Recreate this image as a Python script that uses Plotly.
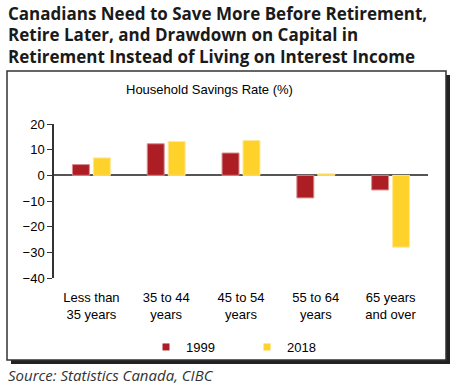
import plotly.graph_objects as go

categories = ["Less than<br>35 years", "35 to 44<br>years", "45 to 54<br>years",
              "55 to 64<br>years", "65 years<br>and over"]
values_1999 = [4.2, 12.3, 8.7, -8.8, -5.7]
values_2018 = [6.8, 13.2, 13.6, 0.6, -28.0]
y_ticks = [20, 10, 0, -10, -20, -30, -40]

W, H = 467, 390
L, R, T, B = 54, 39, 124, 112
PW, PH = W - L - R, H - T - B

def px(x):
    return (x - L) / PW

def py(y):
    return (H - B - y) / PH

RED = "#AD1E24"
YEL = "#FFD22B"

fig = go.Figure()
fig.add_trace(go.Bar(x=categories, y=values_1999, name="1999", showlegend=False,
                     marker=dict(color=RED, line=dict(color="#D98C8F", width=1))))
fig.add_trace(go.Bar(x=categories, y=values_2018, name="2018", showlegend=False,
                     marker=dict(color=YEL, line=dict(color="#FFE89A", width=1))))
# legend entries with small square symbols
fig.add_trace(go.Scatter(x=[None], y=[None], mode="markers", name="1999",
                         marker=dict(symbol="square", size=7, color=RED)))
fig.add_trace(go.Scatter(x=[None], y=[None], mode="markers", name="2018",
                         marker=dict(symbol="square", size=7, color=YEL)))

shapes = [
    dict(type="rect", xref="paper", yref="paper", x0=px(11), x1=px(450), y0=py(75), y1=py(364),
         fillcolor="#222222", line=dict(width=0), layer="below"),
    dict(type="rect", xref="paper", yref="paper", x0=px(7), x1=px(446), y0=py(71), y1=py(360),
         fillcolor="white", line=dict(color="#333333", width=1.5), layer="below"),
]

title_lines = ["Canadians Need to Save More Before Retirement,",
               "Retire Later, and Drawdown on Capital in",
               "Retirement Instead of Living on Interest Income"]
title_y = [13, 34.5, 56]
annotations = []
for t, yy in zip(title_lines, title_y):
    annotations.append(dict(text=f"<b>{t}</b>", xref="paper", yref="paper", x=px(6), y=py(yy),
                            xanchor="left", yanchor="middle", showarrow=False,
                            font=dict(family="Open Sans", size=17, color="#1a1a1a")))
annotations.append(dict(text="Household Savings Rate (%)", xref="paper", yref="paper", x=px(209), y=py(89),
                        xanchor="center", yanchor="middle", showarrow=False,
                        font=dict(family="Liberation Sans, Arial", size=13, color="black")))
annotations.append(dict(text="<i>Source: Statistics Canada, CIBC</i>", xref="paper", yref="paper",
                        x=px(6), y=py(375), xanchor="left", yanchor="middle", showarrow=False,
                        font=dict(family="Open Sans", size=15, color="#333333")))

fig.update_layout(
    width=W, height=H,
    margin=dict(l=L, r=R, t=T, b=B),
    paper_bgcolor="white", plot_bgcolor="rgba(0,0,0,0)",
    barmode="group", bargap=0.44, bargroupgap=0.19,
    shapes=shapes, annotations=annotations,
    font=dict(family="Liberation Sans, Arial", size=13, color="black"),
    legend=dict(orientation="h", x=px(146), y=py(347), xanchor="left", yanchor="middle",
                entrywidth=56, entrywidthmode="pixels", bgcolor="rgba(0,0,0,0)",
                font=dict(size=13, color="black")),
    showlegend=True,
)
fig.update_xaxes(showline=False, ticks="", showgrid=False, tickfont=dict(size=13),
                 ticklabelstandoff=10)
fig.update_yaxes(range=[-40, 20], tickvals=y_ticks, showgrid=False, showline=True,
                 linecolor="#333333", linewidth=1.5, ticks="outside", ticklen=5,
                 tickcolor="#333333", zeroline=True, zerolinecolor="#555555", zerolinewidth=1.5,
                 tickfont=dict(size=13))

fig.write_html("out.html", config={"displayModeBar": False},
               post_script="document.body.style.margin='0';")
